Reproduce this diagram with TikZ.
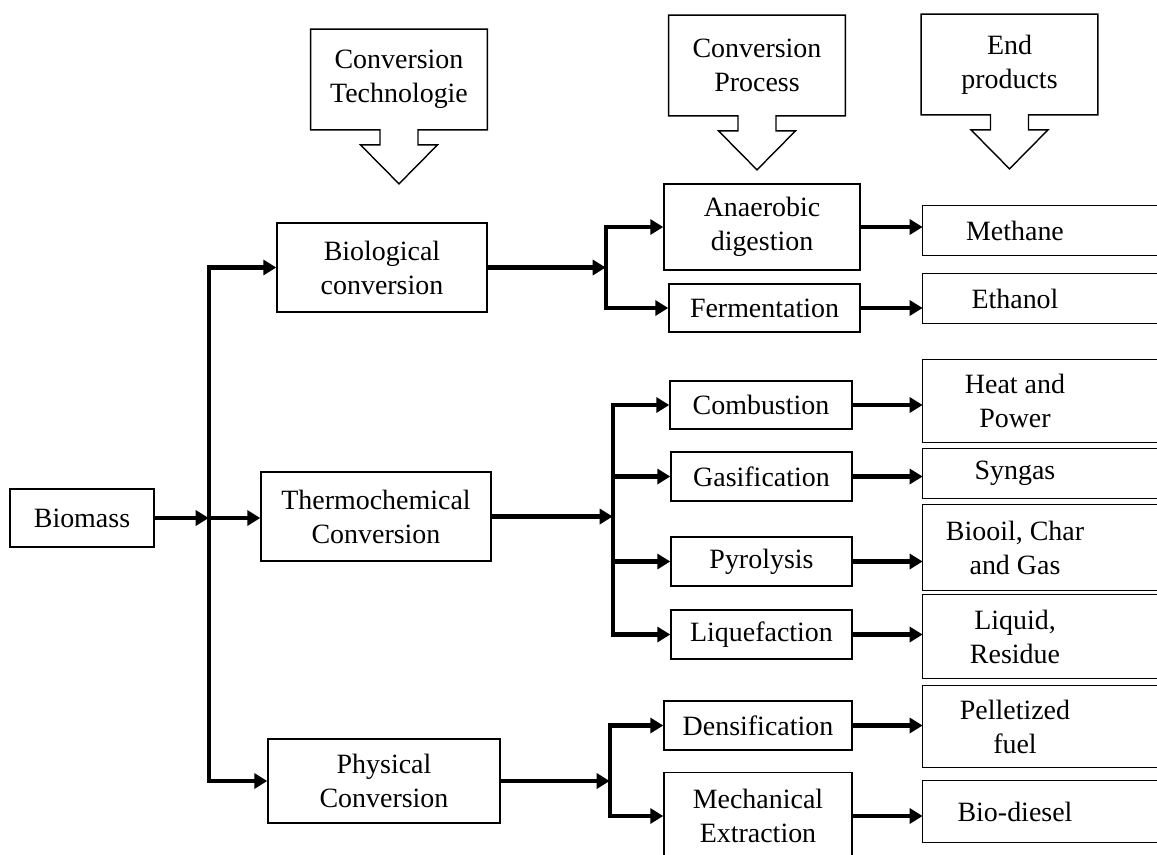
\documentclass[tikz,border=0pt]{standalone}
\usepackage{fontspec}
\setmainfont{Liberation Serif}
\usetikzlibrary{arrows.meta, positioning}

\begin{document}
\begin{tikzpicture}[
    boxline/.style={line width=0.8pt},
    box/.style 2 args={draw, boxline, minimum width=#1, minimum height=#2, align=center, inner sep=2pt},
    prodtxt/.style={minimum width=3.68cm, minimum height=#1, align=center, inner sep=2pt},
    callout/.style={boxline},
    flow/.style={line width=2.4pt, -{Triangle[length=0.26cm, width=0.3cm]}},
    font=\fontsize{15.9}{19.4}\selectfont,
]
\useasboundingbox (0,0) rectangle (23.14,-17.08);

% Column headers
\node[minimum width=3.52cm, minimum height=2cm, align=center] (ctech) at (7.98,-1.59) {Conversion\\Technologie};
\node[minimum width=3.52cm, minimum height=2cm, align=center] (cproc) at (15.14,-1.31) {Conversion\\Process};
\node[minimum width=3.52cm, minimum height=2cm, align=center] (cend) at (20.19,-1.29) {End\\products};
\foreach \n in {ctech,cproc,cend}
  \draw[callout] (\n.south west) -- (\n.north west) -- (\n.north east) -- (\n.south east)
    -- ([xshift=0.38cm]\n.south) -- ++(0,-0.3) -- ++(0.39,0) -- ([yshift=-1.08cm]\n.south)
    -- ([shift={(-0.77,-0.3)}]\n.south) -- ++(0.39,0) -- ([xshift=-0.38cm]\n.south) -- cycle;

% Feedstock and technologies
\node[box={2.88cm}{1.16cm}] (biomass) at (1.64,-10.36) {Biomass};
\node[box={4.2cm}{1.78cm}] (bio) at (7.64,-5.35) {Biological\\conversion};
\node[box={4.6cm}{1.78cm}] (thermo) at (7.52,-10.33) {Thermochemical\\Conversion};
\node[box={4.64cm}{1.68cm}] (phys) at (7.68,-15.62) {Physical\\Conversion};

% Processes
\node[box={3.92cm}{1.72cm}] (anaer) at (15.24,-4.54) {Anaerobic\\digestion};
\node[box={3.82cm}{0.96cm}] (ferm) at (15.29,-6.16) {Fermentation};
\node[box={3.64cm}{0.96cm}] (comb) at (15.22,-8.10) {Combustion};
\node[box={3.62cm}{0.98cm}] (gas) at (15.23,-9.53) {Gasification};
\node[box={3.62cm}{0.98cm}] (pyro) at (15.23,-11.23) {Pyrolysis};
\node[box={3.62cm}{0.98cm}] (liq) at (15.23,-12.69) {Liquefaction};
\node[box={3.76cm}{0.98cm}] (dens) at (15.16,-14.51) {Densification};
\node[box={3.76cm}{1.74cm}] (mech) at (15.16,-16.32) {Mechanical\\Extraction};

% End products (frames run off the right edge)
\node[prodtxt=0.98cm] (meth) at (20.30,-4.61) {Methane};
\node[prodtxt=0.98cm] (eth) at (20.30,-5.97) {Ethanol};
\node[prodtxt=1.64cm] (heat) at (20.30,-8.02) {Heat and\\Power};
\node[prodtxt=0.98cm] (syn) at (20.30,-9.47) {Syngas};
\node[prodtxt=1.70cm] (oil) at (20.30,-10.95) {Biooil, Char\\and Gas};
\node[prodtxt=1.66cm] (liqr) at (20.30,-12.73) {Liquid,\\Residue};
\node[prodtxt=1.62cm] (pel) at (20.30,-14.53) {Pelletized\\fuel};
\node[prodtxt=1.22cm] (dies) at (20.30,-16.23) {Bio-diesel};
\coordinate (rim) at (23.6,0);
\foreach \n in {meth,eth,heat,syn,oil,liqr,pel,dies}
  \draw[boxline] (\n.north -| rim) -- (\n.north west) -- (\n.south west) -- (\n.south -| rim);

% Branch points
\coordinate (tj) at ([xshift=1.08cm]biomass.east);
\coordinate (bj) at ([xshift=2.36cm]bio.east);
\coordinate (hj) at ([xshift=2.42cm]thermo.east);
\coordinate (pj) at ([xshift=2.18cm]phys.east);

% Connections
\draw[flow] (biomass.east) -- (tj);
\draw[flow] (tj) -- (tj -| thermo.west);
\draw[flow] (tj) |- (bio.west);
\draw[flow] (tj) |- (phys.west);
\draw[flow] (bio.east) -- (bj);
\draw[flow] (bj) |- (anaer.west);
\draw[flow] (bj) |- (ferm.west);
\draw[flow] (thermo.east) -- (hj);
\foreach \n in {comb,gas,pyro,liq}
  \draw[flow] (hj) |- (\n.west);
\draw[flow] (phys.east) -- (pj);
\draw[flow] (pj) |- (dens.west);
\draw[flow] (pj) |- (mech.west);
\draw[flow] (anaer.east) -- (anaer.east -| meth.west);
\draw[flow] (ferm.east) -- (ferm.east -| eth.west);
\draw[flow] (comb.east) -- (comb.east -| heat.west);
\draw[flow] (gas.east) -- (gas.east -| syn.west);
\draw[flow] (pyro.east) -- (pyro.east -| oil.west);
\draw[flow] (liq.east) -- (liq.east -| liqr.west);
\draw[flow] (dens.east) -- (dens.east -| pel.west);
\draw[flow] (mech.east) -- (mech.east -| dies.west);

\end{tikzpicture}
\end{document}
